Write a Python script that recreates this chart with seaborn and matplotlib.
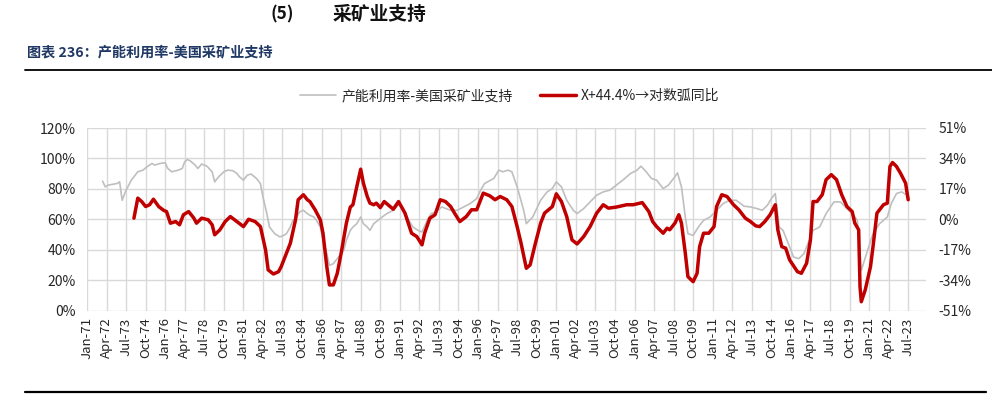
import matplotlib
matplotlib.use("Agg")
import matplotlib.pyplot as plt
import matplotlib.lines as mlines
import seaborn as sns
import pandas as pd

sns.set_theme(style="white")
plt.rcParams['font.family'] = ['Noto Sans CJK SC', 'DejaVu Sans']

# ---------------- data ----------------
grey_dates = ["1972-01", "1972-03", "1972-05", "1972-12", "1973-02", "1973-04", "1973-07", "1973-11",
              "1974-04", "1974-08", "1974-11", "1975-03", "1975-05", "1975-09", "1976-01", "1976-03",
              "1976-06", "1976-11", "1977-02", "1977-04", "1977-06", "1977-08", "1977-12", "1978-02",
              "1978-05", "1978-09", "1979-01", "1979-03", "1979-06", "1979-10", "1980-01", "1980-05",
              "1980-08", "1980-10", "1981-01", "1981-04", "1981-07", "1981-11", "1982-02", "1982-04",
              "1982-07", "1982-09", "1983-01", "1983-05", "1983-08", "1983-10", "1984-01", "1984-03",
              "1984-06", "1984-08", "1984-11", "1985-02", "1985-04", "1985-07", "1985-09", "1985-12",
              "1986-02", "1986-05", "1986-07", "1986-10", "1987-02", "1987-06", "1987-08", "1987-11",
              "1988-01", "1988-04", "1988-07", "1988-09", "1988-12", "1989-02", "1989-05", "1989-10",
              "1990-03", "1990-08", "1991-01", "1991-04", "1991-08", "1991-11", "1992-03", "1992-06",
              "1992-10", "1993-01", "1993-05", "1993-09", "1994-04", "1994-09", "1995-02", "1995-07",
              "1995-12", "1996-03", "1996-06", "1997-01", "1997-05", "1997-08", "1997-12", "1998-03",
              "1998-07", "1998-12", "1999-02", "1999-07", "2000-01", "2000-06", "2000-10", "2001-01",
              "2001-05", "2001-09", "2002-02", "2002-05", "2002-10", "2003-03", "2003-08", "2004-01",
              "2004-06", "2004-11", "2005-04", "2005-10", "2006-03", "2006-06", "2006-10", "2007-02",
              "2007-06", "2007-11", "2008-03", "2008-07", "2008-10", "2009-01", "2009-04", "2009-06",
              "2009-10", "2010-02", "2010-06", "2010-11", "2011-04", "2011-09", "2012-02", "2012-07",
              "2013-01", "2013-06", "2013-11", "2014-03", "2014-07", "2014-10", "2015-01", "2015-04",
              "2015-07", "2015-11", "2016-03", "2016-07", "2016-11", "2017-02", "2017-06", "2017-11",
              "2018-04", "2018-10", "2019-03", "2019-08", "2019-12", "2020-04", "2020-07", "2020-11",
              "2021-04", "2021-09", "2022-03", "2022-06", "2022-10", "2023-02", "2023-06", "2023-07"]
grey_vals = [85.0, 81.3, 82.4, 83.5, 84.6, 72.5, 79.1, 85.7,
             91.2, 92.3, 94.5, 96.7, 95.6, 96.7, 97.1, 93.4,
             91.2, 92.3, 93.4, 97.8, 99.3, 98.5, 95.6, 93.4,
             96.3, 94.9, 91.2, 84.6, 87.9, 91.2, 92.3, 91.9,
             90.1, 87.9, 85.7, 89.0, 89.7, 86.8, 83.5, 74.7,
             63.7, 54.9, 50.5, 48.4, 49.4, 50.5, 54.9, 59.3,
             61.5, 64.8, 65.9, 63.7, 62.6, 61.5, 59.3, 54.9,
             46.2, 37.4, 29.7, 30.8, 35.2, 39.6, 46.2, 52.7,
             54.9, 57.1, 61.5, 57.1, 54.9, 52.7, 57.1, 60.5,
             63.7, 65.9, 70.3, 65.9, 59.3, 54.9, 52.7, 51.6,
             59.3, 63.7, 64.8, 68.1, 65.9, 65.9, 68.1, 70.3,
             73.6, 79.1, 83.5, 86.8, 92.3, 91.2, 92.3, 91.2,
             81.3, 65.9, 57.1, 61.5, 72.5, 78.0, 80.2, 84.6,
             81.3, 72.5, 65.9, 63.7, 67.0, 71.4, 75.8, 78.0,
             79.1, 82.4, 85.7, 90.1, 92.3, 94.9, 91.2, 86.8,
             85.7, 80.2, 82.4, 86.8, 90.5, 81.3, 61.5, 50.5,
             49.4, 54.9, 59.3, 61.5, 65.9, 70.3, 72.5, 72.5,
             68.6, 68.1, 67.0, 65.9, 69.2, 73.6, 76.9, 54.9,
             52.7, 44.0, 35.2, 34.1, 37.4, 44.0, 52.7, 54.9,
             63.7, 71.4, 71.4, 67.0, 63.7, 59.3, 26.4, 37.4,
             50.5, 57.1, 61.5, 70.3, 76.9, 78.0, 75.8, 74.0]

red_dates = ["1974-01", "1974-04", "1974-07", "1974-10", "1975-01", "1975-04", "1975-08", "1975-12",
             "1976-02", "1976-05", "1976-09", "1976-12", "1977-03", "1977-07", "1977-11", "1978-01",
             "1978-05", "1978-10", "1979-01", "1979-03", "1979-07", "1979-11", "1980-03", "1980-08",
             "1981-01", "1981-05", "1981-10", "1982-02", "1982-06", "1982-08", "1982-12", "1983-04",
             "1983-06", "1983-09", "1984-01", "1984-05", "1984-07", "1984-11", "1985-02", "1985-04",
             "1985-08", "1985-12", "1986-02", "1986-05", "1986-07", "1986-10", "1987-01", "1987-04",
             "1987-08", "1987-11", "1988-01", "1988-04", "1988-07", "1988-09", "1988-12", "1989-02",
             "1989-05", "1989-07", "1989-10", "1990-01", "1990-08", "1990-12", "1991-05", "1991-10",
             "1992-02", "1992-06", "1992-08", "1992-12", "1993-04", "1993-08", "1993-12", "1994-04",
             "1994-07", "1994-11", "1995-04", "1995-08", "1995-12", "1996-05", "1996-10", "1997-02",
             "1997-06", "1997-11", "1998-03", "1998-07", "1998-10", "1999-02", "1999-05", "1999-09",
             "2000-01", "2000-04", "2000-10", "2001-01", "2001-05", "2001-09", "2002-01", "2002-05",
             "2002-10", "2003-03", "2003-08", "2004-01", "2004-05", "2004-11", "2005-07", "2005-12",
             "2006-07", "2006-12", "2007-03", "2007-06", "2007-11", "2008-02", "2008-04", "2008-08",
             "2008-11", "2009-01", "2009-04", "2009-06", "2009-10", "2010-01", "2010-03", "2010-06",
             "2010-10", "2011-02", "2011-04", "2011-08", "2011-12", "2012-05", "2012-09", "2013-02",
             "2013-06", "2013-10", "2014-01", "2014-05", "2014-09", "2015-01", "2015-03", "2015-06",
             "2015-09", "2015-12", "2016-06", "2016-09", "2017-01", "2017-04", "2017-06", "2017-09",
             "2018-01", "2018-04", "2018-08", "2018-12", "2019-04", "2019-08", "2019-12", "2020-02",
             "2020-05", "2020-06", "2020-07", "2020-10", "2021-02", "2021-04", "2021-07", "2021-09",
             "2021-12", "2022-03", "2022-05", "2022-07", "2022-10", "2023-01", "2023-05", "2023-07"]
red_vals = [0.6, 11.8, 9.9, 7.1, 8.1, 11.2, 7.1, 4.9,
            4.3, -2.2, -1.3, -3.1, 2.5, 4.3, 0.6, -2.2,
            0.6, -0.3, -3.1, -8.7, -5.9, -1.3, 1.5, -1.3,
            -4.1, 0.0, -1.3, -4.1, -17.1, -28.3, -30.6, -29.3,
            -26.5, -20.9, -13.4, -0.3, 10.9, 13.7, 10.9, 9.9,
            5.3, -0.3, -7.8, -26.5, -36.7, -36.7, -30.2, -19.0,
            -2.2, 6.8, 8.1, 18.3, 28.0, 20.2, 12.7, 9.0,
            8.1, 9.0, 6.5, 9.9, 5.6, 9.9, 3.4, -7.8,
            -9.7, -14.3, -7.8, 0.6, 2.5, 10.9, 9.9, 7.1,
            3.4, -1.3, 1.5, 5.3, 5.3, 14.6, 13.1, 10.9,
            12.7, 10.9, 7.1, -4.1, -13.4, -27.4, -25.5, -13.4,
            -2.2, 3.4, 7.1, 14.2, 9.9, 1.5, -11.5, -13.8,
            -9.7, -4.1, 3.4, 8.1, 6.2, 6.8, 8.1, 8.1,
            9.3, 4.3, -1.3, -4.1, -7.8, -5.0, -5.9, -2.2,
            2.5, -2.2, -19.0, -32.1, -34.9, -30.2, -15.3, -7.8,
            -7.8, -4.1, 7.1, 13.7, 12.7, 8.1, 5.3, 0.6,
            -1.3, -3.7, -4.1, -1.3, 2.5, 8.1, -5.9, -15.3,
            -16.2, -22.7, -29.3, -30.2, -24.6, -11.5, 9.9, 9.9,
            13.7, 22.1, 24.9, 22.1, 13.7, 7.1, 4.3, -2.2,
            -5.9, -37.7, -46.1, -39.5, -26.5, -15.3, 3.4, 5.3,
            8.1, 9.0, 29.5, 31.7, 29.5, 25.8, 20.2, 10.9]

left_ticks = [0, 20, 40, 60, 80, 100, 120]
right_ticks = [-51, -34, -17, 0, 17, 34, 51]
grey_label = "产能利用率-美国采矿业支持"
red_label = "X+44.4%→对数弧同比"

grey_df = pd.DataFrame({"date": pd.to_datetime(grey_dates), "value": grey_vals})
red_df = pd.DataFrame({"date": pd.to_datetime(red_dates), "value": red_vals})

GREY = "#BFBFBF"
RED = "#C00000"
GRID = "#D9D9D9"
TXT = "#262626"

fig = plt.figure(figsize=(9.92, 3.96), dpi=100)
W, H = 992, 396
ax = fig.add_axes([87 / W, 1 - 310.5 / H, (926 - 87) / W, (310.5 - 128) / H])

sns.lineplot(data=grey_df, x="date", y="value", ax=ax, color=GREY, linewidth=1.2, legend=False)
ax2 = ax.twinx()
sns.lineplot(data=red_df, x="date", y="value", ax=ax2, color=RED, linewidth=2.5, legend=False)

x0 = pd.Timestamp("1971-01-01")
x1 = pd.Timestamp("2024-08-20")
ax.set_xlim(x0, x1)
ax.set_ylim(0, 120)
ax2.set_ylim(-51, 51)

xt = pd.date_range("1971-01-01", "2023-07-01", freq="15MS")
ax.set_xticks(xt)
ax.set_xticklabels([d.strftime("%b-%y") for d in xt], rotation=90, fontsize=9.5, color=TXT)
ax.set_yticks(left_ticks)
ax.set_yticklabels([f"{v}%" for v in left_ticks], fontsize=10, color=TXT)
ax2.set_yticks(right_ticks)
ax2.set_yticklabels([f"{v}%" for v in right_ticks], fontsize=10, color=TXT)

ax.grid(True, color=GRID, linewidth=1.0)
ax2.grid(False)
ax.set_axisbelow(True)
for a in (ax, ax2):
    for s in a.spines.values():
        s.set_visible(False)
    a.set_xlabel("")
    a.set_ylabel("")
ax.tick_params(axis="x", length=0, pad=5)
ax.tick_params(axis="y", length=0, pad=8)
ax2.tick_params(axis="y", length=0, pad=9)

# legend
h1 = mlines.Line2D([], [], color=GREY, linewidth=1.2)
h2 = mlines.Line2D([], [], color=RED, linewidth=2.5)
fig.legend([h1, h2], [grey_label, red_label], loc="center", bbox_to_anchor=(510 / W, 1 - 96 / H),
           ncol=2, frameon=False, fontsize=10, handlelength=2.6, handletextpad=0.35,
           columnspacing=2.0, labelcolor=TXT)

# headings
fig.text(270 / W, 1 - 14 / H, "(5)", fontsize=12.5, fontweight="bold", color="#111111", va="center")
fig.text(333 / W, 1 - 14 / H, "采矿业支持", fontsize=13.5, fontweight="bold", color="#111111", va="center")
fig.text(27 / W, 1 - 52 / H, "图表 236：产能利用率-美国采矿业支持", fontsize=10.2, fontweight="bold",
         color="#1F3864", va="center")
fig.add_artist(mlines.Line2D([25 / W, 1.0], [1 - 70 / H, 1 - 70 / H], transform=fig.transFigure,
                             color="black", linewidth=1.3))
fig.add_artist(mlines.Line2D([25 / W, 986 / W], [1 - 392 / H, 1 - 392 / H], transform=fig.transFigure,
                             color="black", linewidth=1.6))

fig.savefig("out.png", dpi=100)
